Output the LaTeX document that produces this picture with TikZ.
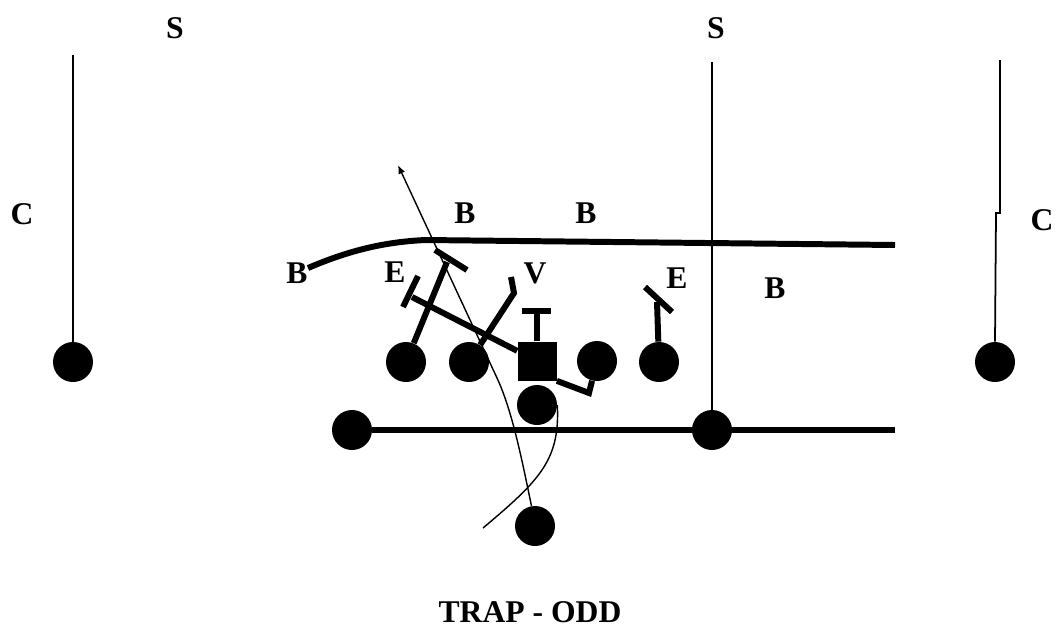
\documentclass[tikz,border=0pt]{standalone}
\usepackage{fontspec}
\setmainfont{Liberation Serif}
\usetikzlibrary{arrows.meta}

\begin{document}
\begin{tikzpicture}[x=0.02cm,y=-0.02cm,font=\fontsize{18}{20}\selectfont\bfseries,
  player/.style={circle,fill,inner sep=0pt,minimum size=0.8cm},
  snapper/.style={rectangle,fill,inner sep=0pt,minimum size=0.78cm},
  deep/.style={line width=1pt},
  block/.style={line width=3.4pt},
  route/.style={line width=0.8pt}]
\useasboundingbox (0,0) rectangle (1057,643);

% offense
\node[player] (lc) at (73,362) {};
\node[player] (rc) at (995,362) {};
\node[player] (t1) at (406,362) {};
\node[player] (t2) at (469,362) {};
\node[snapper] (c) at (537,361) {};
\node[player] (g2) at (597,361) {};
\node[player] (te) at (659,362) {};
\node[player] (wl) at (352,430) {};
\node[player] (qb) at (537,405) {};
\node[player] (ws) at (712,430) {};
\node[player] (fb) at (535,526) {};

% defense
\node (s1) at (175,28) {S};
\node (s2) at (716,28) {S};
\node (c1) at (22,214) {C};
\node (c2) at (1042,220) {C};
\node (b1) at (297,273) {B};
\node (b2) at (465,213) {B};
\node (b3) at (586,213) {B};
\node (b4) at (775,288) {B};
\node (e1) at (395,272) {E};
\node (v) at (535,273) {V};
\node (e2) at (677,278) {E};

\coordinate (lcTop) at (73,55);
\coordinate (rcTop) at (1000,60);
\coordinate (wsTop) at (712,62);
\coordinate (losR) at (895,430);
\coordinate (depthL) at (308,268);
\coordinate (depthR) at (895,245);
\coordinate (qbTip) at (398,165);
\coordinate (pullEnd) at (483,528);

\draw[deep] (lcTop) -- (lc);
\draw[deep] (rcTop) -- (1000,213) -- (996,213) -- (rc.north);
\draw[deep] (wsTop) -- (ws);
\draw[block] (wl) -- (losR);
\draw[block] (depthL) .. controls (350,250) and (385,242) .. (425,240) -- (depthR);

% blocks
\draw[block] (t1) -- (447,262);
\draw[block] (435,250) -- (467,270);
\draw[block] (c) -- (412,297);
\draw[block] (418,276) -- (403,307);
\draw[block] (t2) -- (514,293) -- (511,277);
\draw[block] (c.north) -- (537,312);
\draw[block] (522,311) -- (551,311);
\draw[block] (c.south east) -- (589,393) -- (g2);
\draw[block] (te) -- (657,302);
\draw[block] (645,287) -- (672,312);

% paths
\draw[route,-{Latex[length=5pt,width=4pt]}] (fb.100) .. controls (522,460) and (512,410) .. (497,378) -- (qbTip);
\draw[route] (qb.east) .. controls (560,460) and (540,480) .. (pullEnd);
%\node at (530,640) {};

\node (title) at (530,612) {TRAP - ODD};
\end{tikzpicture}
\end{document}
